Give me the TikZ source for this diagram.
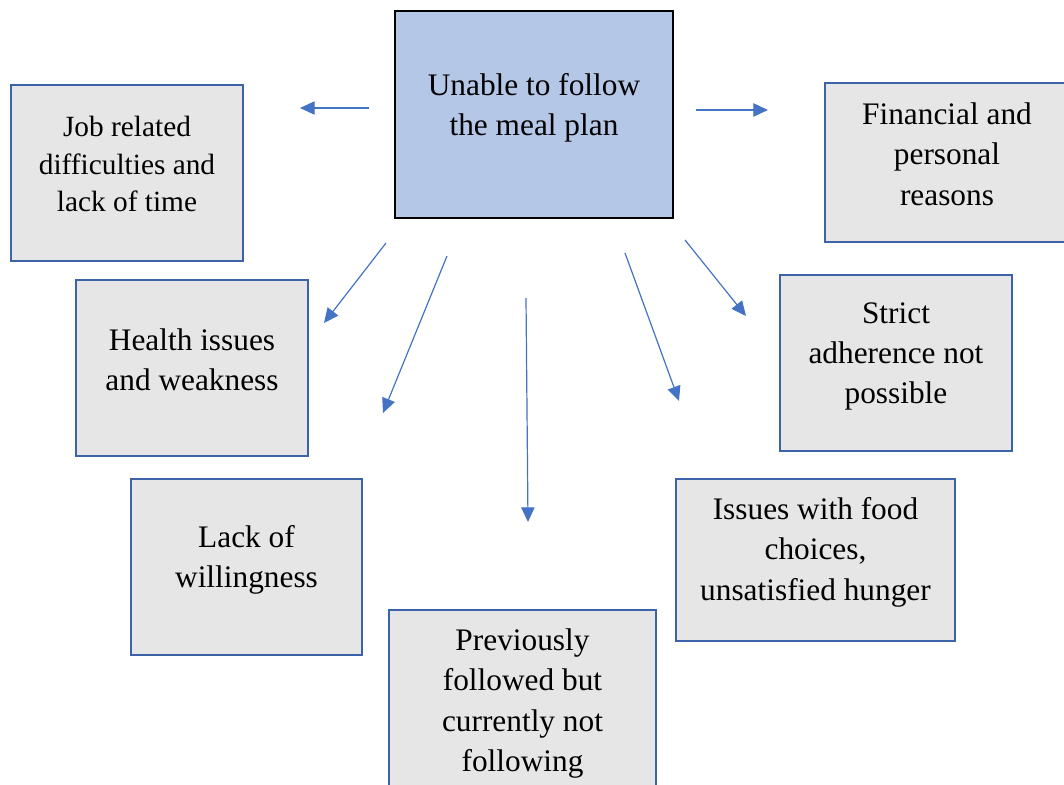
\documentclass[tikz,border=0pt]{standalone}
\usepackage{fontspec}
\setmainfont{Liberation Serif}
\usetikzlibrary{arrows.meta}
\definecolor{headfill}{HTML}{B4C7E7}
\definecolor{boxfill}{HTML}{E7E6E6}
\definecolor{boxedge}{HTML}{3C63A8}
\definecolor{arrowblue}{HTML}{4472C4}
\begin{document}
\begin{tikzpicture}[x=0.75pt,y=-0.75pt,
  headbox/.style={draw=black,line width=2.2pt,fill=headfill,inner sep=0pt},
  causebox/.style={draw=boxedge,line width=1.5pt,fill=boxfill,inner sep=0pt},
  boxtext/.style={align=center,font=\fontsize{23.5pt}{30.3pt}\selectfont,inner sep=0pt},
  smalltext/.style={align=center,font=\fontsize{22pt}{27.8pt}\selectfont,inner sep=0pt},
  link/.style={draw=arrowblue,line width=0.9pt,-{Triangle[length=11pt,width=10pt]}}]
\useasboundingbox (0,0) rectangle (1064,785);
\begin{scope}
\clip (0,0) rectangle (1064,785);
% central problem
\node[headbox,minimum width=278*0.75pt,minimum height=207*0.75pt] (head) at (534,114.5) {};
\node[boxtext] (headtxt) at (534,108) {Unable to follow\\the meal plan};
% reasons
\node[causebox,minimum width=232*0.75pt,minimum height=176*0.75pt] (job) at (127,173) {};
\node[smalltext] (jobtxt) at (127,164) {Job related\\difficulties and\\lack of time};
\node[causebox,minimum width=244*0.75pt,minimum height=159*0.75pt] (fin) at (947,162.5) {};
\node[boxtext] (fintxt) at (947,154) {Financial and\\personal\\reasons};
\node[causebox,minimum width=232*0.75pt,minimum height=176*0.75pt] (health) at (192,368) {};
\node[boxtext] (healthtxt) at (192,360) {Health issues\\and weakness};
\node[causebox,minimum width=232*0.75pt,minimum height=176*0.75pt] (strict) at (896,363) {};
\node[boxtext] (stricttxt) at (896,356.5) {Strict\\adherence not\\possible};
\node[causebox,minimum width=231*0.75pt,minimum height=176*0.75pt] (will) at (246.5,567) {};
\node[boxtext] (willtxt) at (246.5,560) {Lack of\\willingness};
\node[causebox,minimum width=279*0.75pt,minimum height=162*0.75pt] (food) at (815.5,560) {};
\node[boxtext] (foodtxt) at (815.5,552) {Issues with food\\choices,\\unsatisfied hunger};
\node[causebox,minimum width=267*0.75pt,minimum height=182*0.75pt] (prev) at (522.5,701) {};
\node[boxtext] (prevtxt) at (522.5,703.5) {Previously\\followed but\\currently not\\following};
\end{scope}
% free-standing arrows around the central box
\coordinate (l0) at (369,108);   \coordinate (l1) at (300,108);
\coordinate (r0) at (696,110);   \coordinate (r1) at (768,110);
\coordinate (a0) at (386,243);   \coordinate (a1) at (324,323);
\coordinate (b0) at (447,256);   \coordinate (b1) at (383,413);
\coordinate (c0) at (526,298);   \coordinate (c1) at (528,522);
\coordinate (d0) at (625,253);   \coordinate (d1) at (679,401);
\coordinate (e0) at (685,240);   \coordinate (e1) at (746,316);
\draw[link] (l0) -- (l1);
\draw[link] (r0) -- (r1);
\draw[link] (a0) -- (a1);
\draw[link] (b0) -- (b1);
\draw[link] (c0) -- (c1);
\draw[link] (d0) -- (d1);
\draw[link] (e0) -- (e1);
\end{tikzpicture}
\end{document}
